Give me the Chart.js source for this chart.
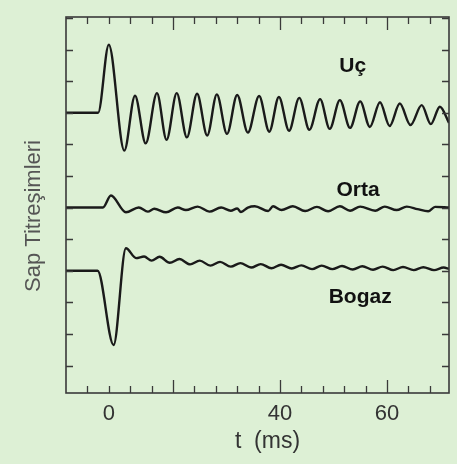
<!DOCTYPE html>
<html>
<head>
<meta charset="utf-8">
<script src="https://cdn.jsdelivr.net/npm/chart.js@4.4.1/dist/chart.umd.min.js"></script>
<style>
  html, body { margin: 0; padding: 0; background: #ddf0d5; }
  #wrap { width: 457px; height: 464px; }
</style>
</head>
<body>
<div id="wrap"><canvas id="chart" width="457" height="464"></canvas></div>
<script>
// Uç (tip) trace: time in ms, displacement in tick units
const ucT = [0, 6.0, 8.0, 10.9, 12.9, 14.9, 17.0, 18.8, 20.7, 22.6, 24.5, 26.4, 28.2, 30.1,
  32.0, 34.0, 36.1, 38.0, 39.8, 41.7, 43.6, 45.5, 47.5, 49.3, 51.2, 53.1, 55.0, 56.8,
  58.7, 60.5, 62.4, 64.4, 66.5, 68.2, 69.9, 71.6];
const ucV = [9.0, 9.0, 11.15, 7.8, 9.54, 8.03, 9.62, 8.14, 9.62, 8.22, 9.60, 8.28, 9.58, 8.33,
  9.56, 8.37, 9.53, 8.40, 9.50, 8.43, 9.47, 8.46, 9.43, 8.49, 9.40, 8.52, 9.36, 8.55,
  9.33, 8.58, 9.29, 8.61, 9.24, 8.64, 9.19, 8.68];

// Orta (middle) trace
const ortaT = [0, 6.9, 8.4, 11.2, 13.6, 15.3, 16.5, 18.7, 20.9, 22.4, 24.6, 26.8, 29.0, 30.8,
  32.0, 32.7, 34.0, 35.3, 37.8, 38.7, 40.3, 42.4, 44.7, 46.9, 49.0, 51.2, 53.1, 55.0,
  57.8, 59.6, 61.8, 63.7, 65.7, 67.7, 69.0, 71.6];
const ortaV = [6.0, 6.0, 6.38, 5.85, 6.0, 5.87, 5.96, 5.85, 6.0, 5.92, 6.03, 5.87, 6.0, 5.9,
  5.97, 5.86, 6.0, 6.04, 5.89, 6.04, 5.92, 6.04, 5.89, 6.02, 5.88, 6.04, 5.9, 6.03,
  5.9, 6.03, 5.92, 6.03, 5.95, 5.88, 6.02, 6.0];

// Bogaz (throat) trace
const bogazT = [0, 5.9, 8.9, 11.2, 13.1, 14.6, 16.0, 17.5, 19.4, 21.2, 23.2, 25.0, 27.0, 28.8,
  30.8, 32.6, 34.6, 36.4, 38.4, 40.2, 42.2, 44.0, 46.0, 47.8, 49.8, 51.6, 53.6, 55.4,
  57.4, 59.2, 61.2, 63.0, 65.0, 66.8, 68.8, 70.6, 71.6];
const bogazV = [4.0, 4.0, 1.65, 4.71, 4.40, 4.45, 4.32, 4.44, 4.25, 4.37, 4.20, 4.32, 4.16, 4.28,
  4.13, 4.24, 4.10, 4.21, 4.08, 4.19, 4.07, 4.17, 4.05, 4.16, 4.05, 4.15, 4.04, 4.14,
  4.03, 4.13, 4.02, 4.12, 4.02, 4.11, 4.02, 4.10, 4.06];

// tick labels on the time axis
const xTickValues = [8, 40, 60];
const xTickLabels = ['0', '40', '60'];

// trace names and where they sit (time, displacement)
const traceNames = ['Uç', 'Orta', 'Bogaz'];
const nameT = [53.6, 54.6, 55.0];
const nameV = [10.48, 6.56, 3.17];

function toPoints(ts, vs) {
  return ts.map((t, i) => ({ x: t, y: vs[i] }));
}

const frame = {
  id: 'frame',
  afterDatasetsDraw(chart) {
    const ctx = chart.ctx;
    const a = chart.chartArea;
    const x = chart.scales.x;
    const y = chart.scales.y;
    ctx.save();
    ctx.strokeStyle = '#3a3a3a';
    ctx.lineWidth = 1.6;
    ctx.strokeRect(a.left, a.top, a.right - a.left, a.bottom - a.top);

    ctx.beginPath();
    x.ticks.forEach(tk => {
      if (tk.value <= x.min || tk.value >= x.max) return;
      const px = Math.round(x.getPixelForValue(tk.value)) + 0.5;
      const len = Math.round(tk.value) % 20 === 0 ? 13 : 7;
      ctx.moveTo(px, a.bottom); ctx.lineTo(px, a.bottom - len);
      ctx.moveTo(px, a.top); ctx.lineTo(px, a.top + len);
    });
    y.ticks.forEach(tk => {
      if (tk.value <= y.min || tk.value >= y.max) return;
      const py = Math.round(y.getPixelForValue(tk.value)) + 0.5;
      ctx.moveTo(a.left, py); ctx.lineTo(a.left + 7, py);
      ctx.moveTo(a.right, py); ctx.lineTo(a.right - 7, py);
    });
    ctx.lineWidth = 1.3;
    ctx.stroke();

    ctx.font = 'bold 21px "Liberation Sans", Arial, sans-serif';
    ctx.textAlign = 'center';
    ctx.textBaseline = 'middle';
    ctx.fillStyle = '#111';
    traceNames.forEach((n, i) => {
      ctx.fillText(n, x.getPixelForValue(nameT[i]), y.getPixelForValue(nameV[i]));
    });

    // axis titles
    ctx.fillStyle = '#333';
    ctx.font = '23px "Liberation Sans", Arial, sans-serif';
    ctx.fillText('t  (ms)', (a.left + a.right) / 2 + 10, a.bottom + 49);
    ctx.fillStyle = '#555';
    ctx.font = '22px "Liberation Sans", Arial, sans-serif';
    ctx.translate(34, (a.top + a.bottom) / 2 + 11);
    ctx.rotate(-Math.PI / 2);
    ctx.fillText('Sap Titreşimleri', 0, 0);
    ctx.restore();
  }
};

const lineStyle = {
  borderColor: '#1a1a1a',
  borderWidth: 2.4,
  pointRadius: 0,
  fill: false,
  cubicInterpolationMode: 'monotone'
};

new Chart(document.getElementById('chart'), {
  type: 'line',
  data: {
    datasets: [
      { label: traceNames[0], data: toPoints(ucT, ucV), ...lineStyle },
      { label: traceNames[1], data: toPoints(ortaT, ortaV), ...lineStyle },
      { label: traceNames[2], data: toPoints(bogazT, bogazV), ...lineStyle }
    ]
  },
  options: {
    responsive: false,
    devicePixelRatio: 1,
    animation: false,
    layout: { padding: { top: 17, right: 8, left: 0, bottom: 0 } },
    plugins: { legend: { display: false }, tooltip: { enabled: false } },
    scales: {
      x: {
        type: 'linear',
        min: 0,
        max: 71.6,
        grid: { display: false, drawTicks: false },
        border: { display: false },
        ticks: {
          stepSize: 4,
          includeBounds: false,
          autoSkip: false,
          maxRotation: 0,
          padding: 8,
          color: '#333',
          font: { family: '"Liberation Sans", Arial, sans-serif', size: 22 },
          callback: function (v) {
            const i = xTickValues.indexOf(Math.round(v));
            return i >= 0 ? xTickLabels[i] : '';
          }
        },
        afterFit: function (scale) { scale.height = 71; }
      },
      y: {
        min: 0.13,
        max: 12.03,
        grid: { display: false, drawTicks: false },
        border: { display: false },
        ticks: { display: false, stepSize: 1, includeBounds: false },
        afterFit: function (scale) { scale.width = 66; }
      }
    }
  },
  plugins: [frame]
});
</script>
</body>
</html>
